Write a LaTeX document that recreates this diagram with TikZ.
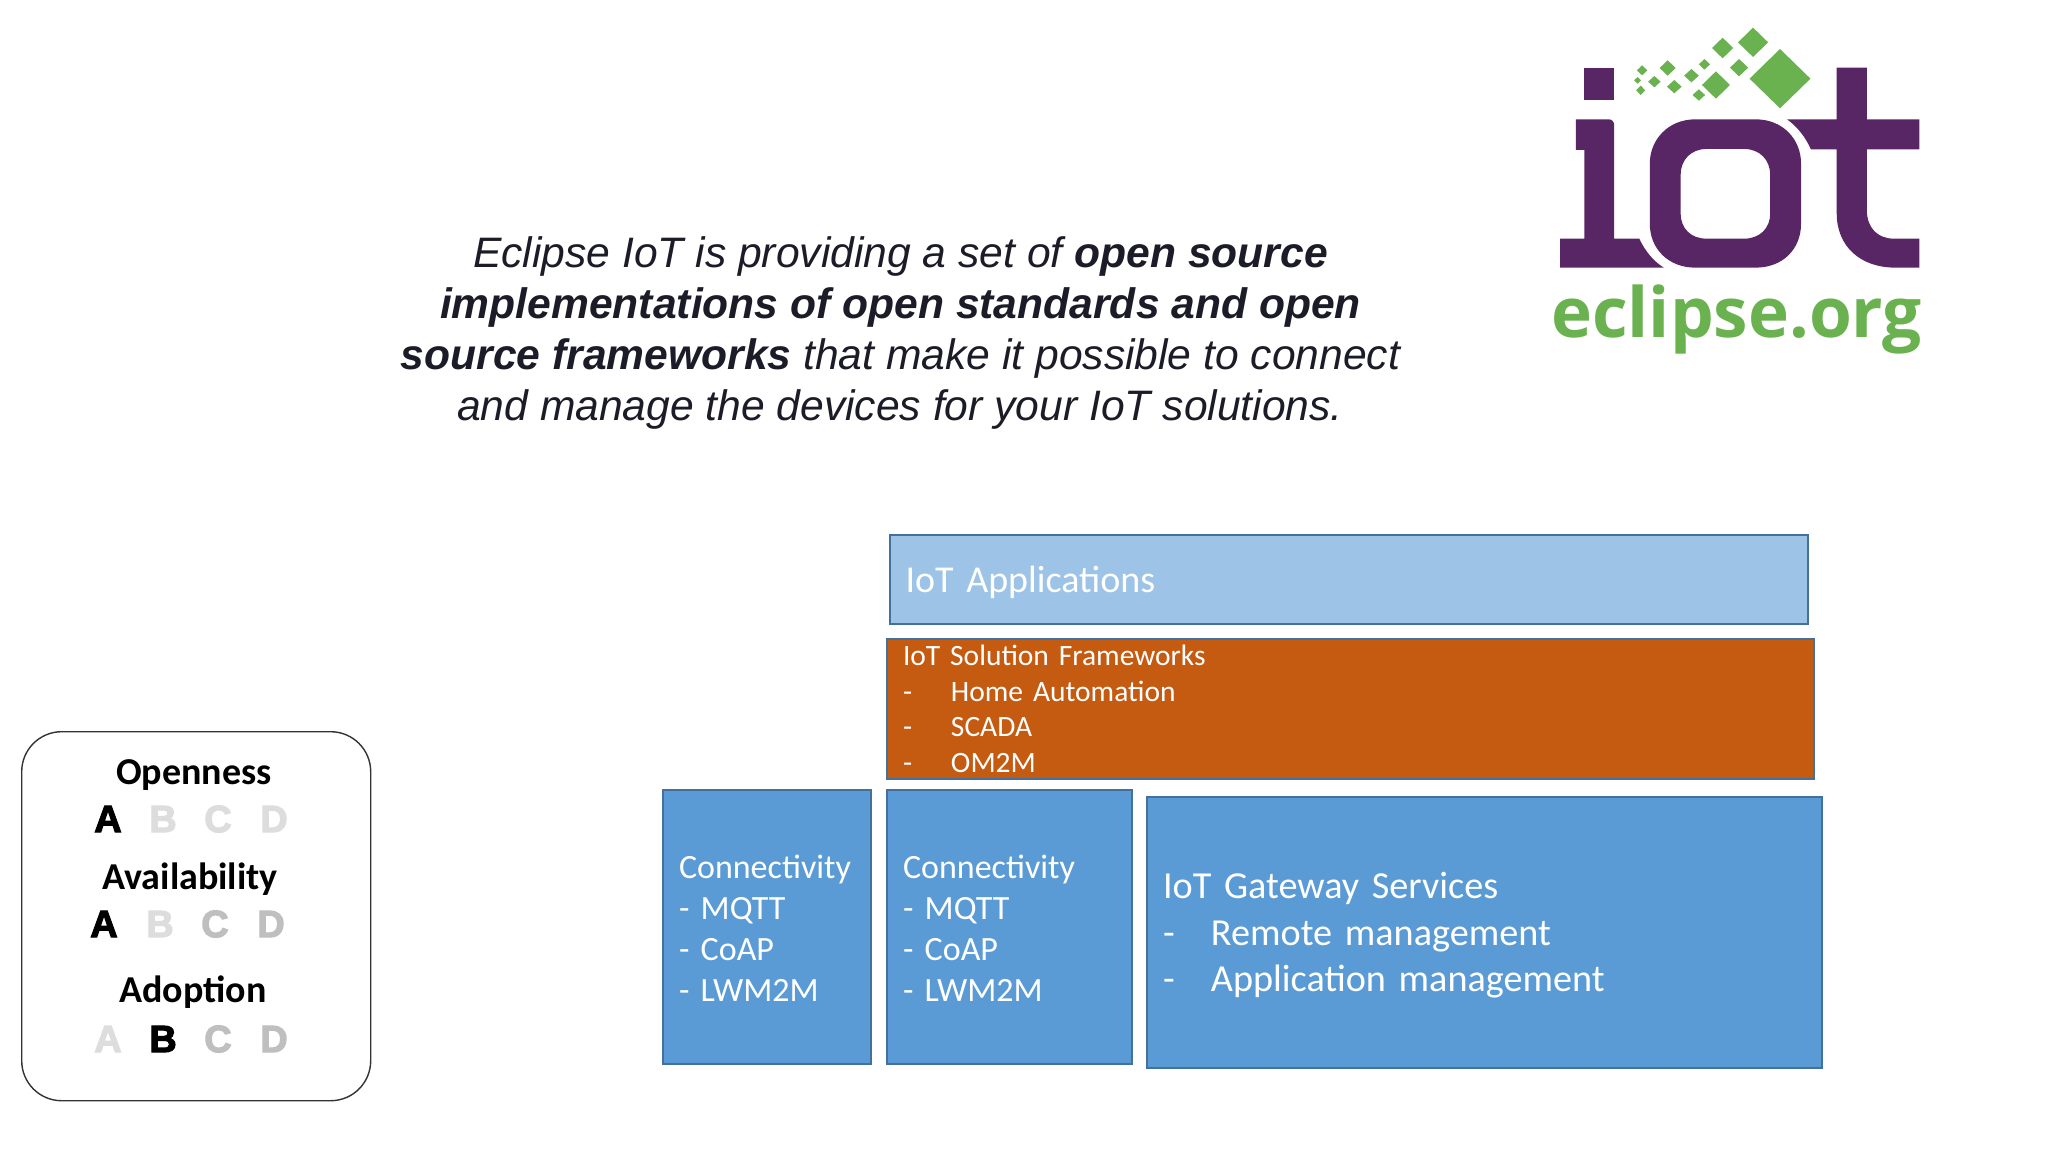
\documentclass[tikz,border=0pt]{standalone}
\usepackage{fontspec}
\setmainfont{Carlito}
\newfontfamily\arialf{Liberation Sans}
\newfontfamily\blk{Liberation Sans Bold}[FakeBold=3]
\newfontfamily\orgf{Open Sans}
\definecolor{stmt}{HTML}{1C1C28}
\definecolor{bluefill}{HTML}{5B9BD5}
\definecolor{blueline}{HTML}{41719C}
\definecolor{lightfill}{HTML}{9DC3E6}
\definecolor{orangefill}{HTML}{C55A11}
\definecolor{logop}{HTML}{582565}
\definecolor{logog}{HTML}{6AB24F}
\definecolor{lg}{HTML}{DDDDDD}
\definecolor{mg}{HTML}{BFBFBF}
\newcommand{\dashrow}[2]{\makebox[#1][l]{-}#2}
\newcommand{\linehigh}[1]{\vrule height #1 width 0pt\relax}
\newcommand{\boxfont}[2]{\fontsize{#1}{#2}\selectfont}
\newcommand{\tightwords}{\fontdimen2\font=0.14em\relax}
\begin{document}
\begin{tikzpicture}[x=1pt,y=-1pt,
  box/.style 2 args={draw=blueline,line width=2pt,anchor=north west,text=white,align=left,inner ysep=0pt,inner xsep=16pt,font={\boxfont{#1}{#2}},execute at begin node={\tightwords}},
  stline/.style={anchor=base,text=stmt,inner sep=0pt,font=\arialf\itshape\fontsize{42.6}{42.6}\selectfont},
  ttl/.style={anchor=base,inner sep=0pt,text=black,font=\bfseries\fontsize{38}{38}\selectfont},
  gr/.style={anchor=center,inner sep=0pt,font=\blk\fontsize{38}{38}\selectfont},
  dia/.style={fill=logog,draw=none},
  logo/.style={fill=logop,draw=none}
]
\useasboundingbox[fill=white] (0,0) rectangle (2048,1152);

% Statement
\node[stline] (s1) at (900.5,267) {Eclipse IoT is providing a set of \textbf{open source}};
\node[stline] (s2) at (900.5,318) {\textbf{implementations of open standards and open}};
\node[stline] (s3) at (900.5,369) {\textbf{source frameworks} that make it possible to connect};
\node[stline] (s4) at (900,420) {and manage the devices for your IoT solutions.};

% Boxes
\node[box={38}{46},fill=lightfill,minimum width=918pt,minimum height=89pt,text width=886pt] (apps) at (888.5,534) {\linehigh{33pt}IoT Applications};
\node[box={29.5}{35.6},fill=orangefill,minimum width=927pt,minimum height=140pt,text width=895pt] (fw) at (886,638)
  {IoT Solution Frameworks\\\dashrow{48pt}{Home Automation}\\\dashrow{48pt}{SCADA}\\\dashrow{48pt}{OM2M}};
\node[box={34}{41},fill=bluefill,minimum width=208pt,minimum height=274pt,text width=176pt] (c1) at (662,788.5)
  {\linehigh{27pt}Connectivity\\- MQTT\\- CoAP\\- LWM2M};
\node[box={34}{41},fill=bluefill,minimum width=245pt,minimum height=274pt,text width=213pt] (c2) at (886,788.5)
  {\linehigh{27pt}Connectivity\\- MQTT\\- CoAP\\- LWM2M};
\node[box={38.2}{46.5},fill=bluefill,minimum width=675pt,minimum height=271pt,text width=643pt] (gw) at (1146,795.5)
  {\linehigh{33pt}IoT Gateway Services\\\dashrow{48pt}{Remote management}\\\dashrow{48pt}{Application management}};

% Legend
\node[draw=black!80,line width=1.4pt,rounded corners=40pt,anchor=north west,minimum width=349pt,minimum height=369pt,inner sep=0pt] (legend) at (21,731) {};
\node[ttl] (t1) at (194,784) {Openness};
\node[ttl] (t2) at (190,889) {Availability};
\node[ttl] (t3) at (193,1002) {Adoption};
\node[gr,text=black] (a1) at (108,819) {A};
\node[gr,text=lg] (b1) at (163,819) {B};
\node[gr,text=lg] (c1l) at (218,819) {C};
\node[gr,text=lg] (d1) at (274,819) {D};
\node[gr,text=black] (a2) at (104,924) {A};
\node[gr,text=lg] (b2) at (160,924) {B};
\node[gr,text=mg] (c2l) at (215,924) {C};
\node[gr,text=mg] (d2) at (271,924) {D};
\node[gr,text=lg] (a3) at (108,1039) {A};
\node[gr,text=black] (b3) at (163,1039) {B};
\node[gr,text=mg] (c3l) at (218,1039) {C};
\node[gr,text=mg] (d3) at (274,1039) {D};

% Logo
\begin{scope}[shift={(1500,0)},x=0.35pt,y=-0.3333pt]
  \fill[logo] (241,203) rectangle (326,299);
  \fill[logo] (217,358) -- (310,358) .. controls (320,358) and (326,365) .. (326,375) -- (326,716) -- (398,716)
     .. controls (415,755) and (440,785) .. (468,803) -- (172,803) -- (172,716) -- (241,716) -- (241,450) -- (217,450) -- cycle;
  \fill[logo,even odd rule] (558,358) -- (730,358) .. controls (810,358) and (860,420) .. (860,490) -- (860,672)
     .. controls (860,745) and (810,803) .. (730,803) -- (558,803) .. controls (480,803) and (428,745) .. (428,672) -- (428,490)
     .. controls (428,420) and (480,358) .. (558,358) -- cycle
     (590,447) .. controls (545,447) and (516,480) .. (516,525) -- (516,640) .. controls (516,685) and (545,716) .. (590,716)
     -- (698,716) .. controls (742,716) and (772,685) .. (772,640) -- (772,525) .. controls (772,480) and (742,447) .. (698,447) -- cycle;
  \fill[logo] (962,203) -- (1048,203) -- (1048,358) -- (1198,358) -- (1198,448) -- (1048,448) -- (1048,630)
     .. controls (1048,685) and (1080,716) .. (1125,716) -- (1198,716) -- (1198,803) -- (1130,803)
     .. controls (1030,803) and (962,740) .. (962,640) -- (962,448) -- (888,448)
     .. controls (875,415) and (850,380) .. (820,358) -- (962,358) -- cycle;
  \foreach \cx/\cy/\rx/\ry in {800/236/87/89, 723/127/43/44, 636/144/30/31, 683/203/26/26, 617/255/40/41, 584/193/16/16,
     547/227/21/20, 568/285/18/17, 479/204/23/23, 498/260/21/20, 441/245/18/17, 406/211/15/15, 393/241/10/10, 402/271/13/14}
    \fill[dia] (\cx-\rx,\cy) -- (\cx,\cy-\ry) -- (\cx+\rx,\cy) -- (\cx,\cy+\ry) -- cycle;
\end{scope}
\node[anchor=base west,inner sep=0pt,text=logog,font=\orgf\bfseries\fontsize{69.3}{69.3}\selectfont] (org) at (1551,337) {eclipse.org};
\end{tikzpicture}
\end{document}
